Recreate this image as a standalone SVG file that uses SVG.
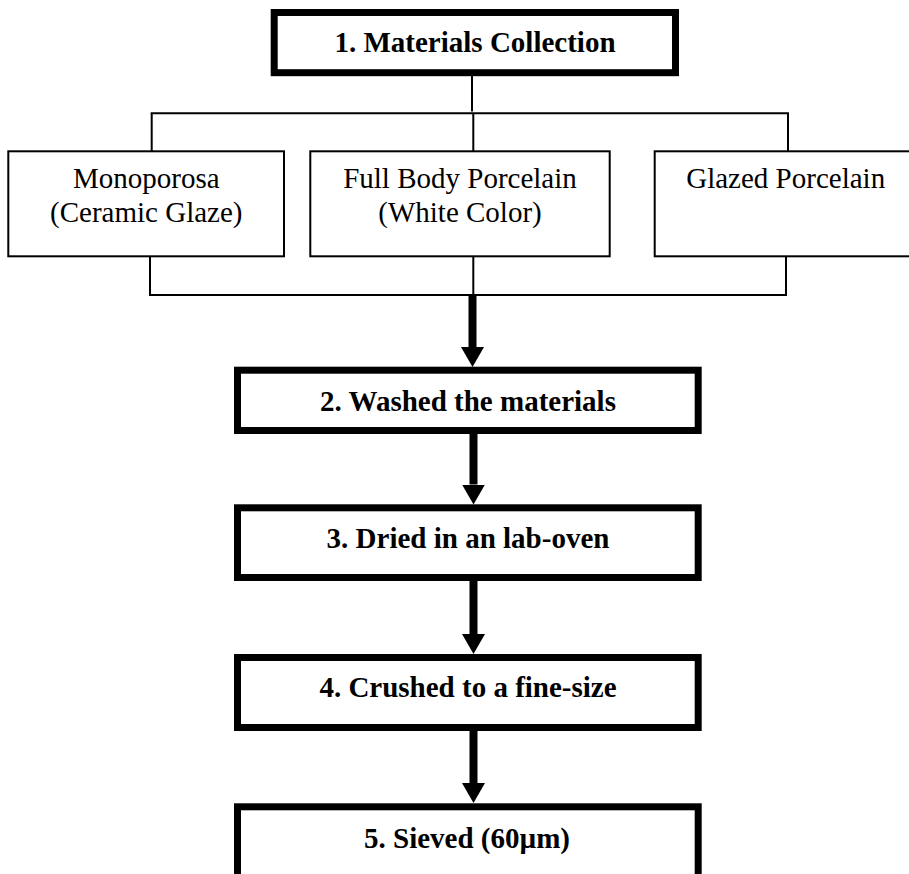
<svg xmlns="http://www.w3.org/2000/svg" width="909" height="874" viewBox="0 0 909 874">
<style>
  .thick { fill: #ffffff; stroke: #000000; stroke-width: 7; }
  .thin { fill: #ffffff; stroke: #000000; stroke-width: 2; }
  .bold { font-family: "Liberation Serif", "Times New Roman", serif; font-size: 29px; font-weight: bold; fill: #000000; text-anchor: middle; }
  .reg { font-family: "Liberation Serif", "Times New Roman", serif; font-size: 29px; fill: #000000; text-anchor: middle; }
  .line { fill: none; stroke: #000000; stroke-width: 2; }
  .arrow { fill: none; stroke: #000000; stroke-width: 8; marker-end: url(#head); }
</style>
<defs>
  <marker id="head" markerUnits="userSpaceOnUse" viewBox="0 0 20 23" markerWidth="20" markerHeight="23" refX="0" refY="11.5" orient="auto">
    <polygon points="0,0 20,11.5 0,23" fill="#000000"/>
  </marker>
</defs>
<rect width="909" height="874" fill="#ffffff"/>

<g id="connectors">
  <line class="line" x1="472" y1="76" x2="472" y2="111.5"/>
  <line class="line" x1="150.7" y1="113.3" x2="789" y2="113.3"/>
  <line class="line" x1="151.7" y1="113.3" x2="151.7" y2="151.3"/>
  <line class="line" x1="473.3" y1="113.3" x2="473.3" y2="151.3"/>
  <line class="line" x1="788" y1="113.3" x2="788" y2="151.3"/>
  <line class="line" x1="150" y1="256.3" x2="150" y2="295"/>
  <line class="line" x1="473.3" y1="256.3" x2="473.3" y2="295"/>
  <line class="line" x1="786" y1="256.3" x2="786" y2="295"/>
  <line class="line" x1="149" y1="295" x2="787" y2="295"/>
  <line class="arrow" x1="472.5" y1="295" x2="472.5" y2="347"/>
  <line class="arrow" x1="473.5" y1="434" x2="473.5" y2="484.5"/>
  <line class="arrow" x1="473.5" y1="581" x2="473.5" y2="634"/>
  <line class="arrow" x1="473.5" y1="731" x2="473.5" y2="783"/>
</g>

<g id="n1">
  <rect class="thick" x="274.2" y="12.5" width="401.3" height="60.2"/>
  <text class="bold" x="475" y="51.7">1. Materials Collection</text>
</g>
<g id="n-mono">
  <rect class="thin" x="8.3" y="151.3" width="275.7" height="105"/>
  <text class="reg" x="146.3" y="188.3">Monoporosa</text>
  <text class="reg" x="146.3" y="221.7">(Ceramic Glaze)</text>
</g>
<g id="n-full">
  <rect class="thin" x="310.3" y="151.3" width="299.4" height="105"/>
  <text class="reg" x="460" y="188.3">Full Body Porcelain</text>
  <text class="reg" x="460" y="221.7">(White Color)</text>
</g>
<g id="n-glazed">
  <rect class="thin" x="654.7" y="151.3" width="270" height="105"/>
  <text class="reg" x="785.7" y="188.3">Glazed Porcelain</text>
</g>
<g id="n2">
  <rect class="thick" x="237.5" y="370.2" width="460.7" height="60.3"/>
  <text class="bold" x="468" y="410.7">2. Washed the materials</text>
</g>
<g id="n3">
  <rect class="thick" x="237.5" y="507.8" width="460.7" height="69.7"/>
  <text class="bold" x="468" y="548.3">3. Dried in an lab-oven</text>
</g>
<g id="n4">
  <rect class="thick" x="237.5" y="657.5" width="460.7" height="70"/>
  <text class="bold" x="468" y="697.3">4. Crushed to a fine-size</text>
</g>
<g id="n5">
  <rect class="thick" x="237.5" y="806.8" width="460.7" height="80"/>
  <text class="bold" x="467" y="848">5. Sieved (60µm)</text>
</g>
</svg>
